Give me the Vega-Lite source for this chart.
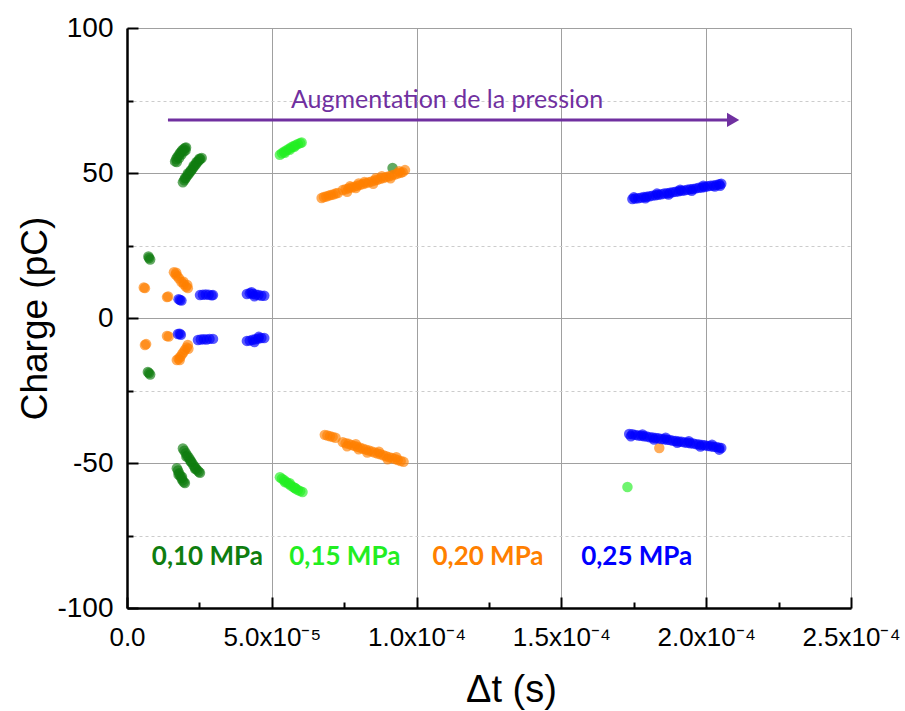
{
  "$schema": "https://vega.github.io/schema/vega-lite/v6.json",
  "width": 724,
  "height": 580,
  "autosize": "none",
  "padding": {"left": 127, "top": 28, "right": 54, "bottom": 103},
  "background": "white",
  "config": {"view": {"stroke": null}},
  "encoding": {
    "x": {
      "field": "x", "type": "quantitative",
      "scale": {"domain": [0, 0.00025], "nice": false, "zero": false},
      "axis": {
        "values": [0, 2.5e-5, 5e-5, 7.5e-5, 1e-4, 1.25e-4, 1.5e-4, 1.75e-4, 2e-4, 2.25e-4, 2.5e-4],
        "labelExpr": "['0.0','','5.0x10⁻⁵','','1.0x10⁻⁴','','1.5x10⁻⁴','','2.0x10⁻⁴','','2.5x10⁻⁴'][round(datum.value/2.5e-5)]",
        "grid": true,
        "gridColor": "#a0a0a0",
        "gridWidth": 1,
        "gridOpacity": {"condition": {"test": "round(datum.value/2.5e-5)%2===1", "value": 0}, "value": 1},
        "tickSize": {"condition": {"test": "round(datum.value/2.5e-5)%2===1", "value": -6}, "value": -11},
        "tickColor": "black", "tickWidth": 2,
        "domainColor": "black", "domainWidth": 2.5,
        "labelFont": "Liberation Sans", "labelFontSize": 26, "labelColor": "black",
        "labelPadding": 27, "labelFlush": false, "labelOverlap": false,
        "title": "Δt (s)", "titleFont": "Liberation Sans", "titleFontSize": 38,
        "titleFontWeight": "normal", "titleColor": "black",
        "titleX": 384, "titleY": 82, "titleBaseline": "middle"
      }
    },
    "y": {
      "field": "y", "type": "quantitative",
      "scale": {"domain": [-100, 100], "nice": false, "zero": false},
      "axis": {
        "values": [-100, -75, -50, -25, 0, 25, 50, 75, 100],
        "labelExpr": "abs(datum.value) % 50 === 0 ? '' + datum.value : ''",
        "grid": true,
        "gridColor": {"condition": {"test": "abs(datum.value) % 50 === 25", "value": "#cccccc"}, "value": "#a0a0a0"},
        "gridDash": {"condition": {"test": "abs(datum.value) % 50 === 25", "value": [3, 3]}, "value": []},
        "gridWidth": 1,
        "tickSize": {"condition": {"test": "abs(datum.value) % 50 === 25", "value": -6}, "value": -11},
        "tickColor": "black", "tickWidth": 2,
        "domainColor": "black", "domainWidth": 2.5,
        "labelFont": "Liberation Sans", "labelFontSize": 28, "labelColor": "black",
        "labelPadding": 25, "labelOverlap": false, "labelFlush": false,
        "title": "Charge (pC)", "titleFont": "Liberation Sans", "titleFontSize": 37,
        "titleFontWeight": "normal", "titleColor": "black",
        "titleX": -92, "titleBaseline": "middle"
      }
    }
  },
  "layer": [
    {
      "data": {"values": [
        {"p":"0.10","x":1.66e-5,"y":54.0},{"p":"0.10","x":1.70e-5,"y":54.8},{"p":"0.10","x":1.74e-5,"y":55.5},{"p":"0.10","x":1.78e-5,"y":56.0},{"p":"0.10","x":1.82e-5,"y":56.7},{"p":"0.10","x":1.86e-5,"y":57.2},{"p":"0.10","x":1.90e-5,"y":57.8},{"p":"0.10","x":1.95e-5,"y":58.2},{"p":"0.10","x":2.00e-5,"y":58.6},{"p":"0.10","x":2.04e-5,"y":58.8},{"p":"0.10","x":1.72e-5,"y":53.8},{"p":"0.10","x":1.80e-5,"y":55.2},{"p":"0.10","x":1.88e-5,"y":56.4},{"p":"0.10","x":1.96e-5,"y":57.4},{"p":"0.10","x":2.02e-5,"y":57.8},
        {"p":"0.10","x":1.93e-5,"y":46.8},{"p":"0.10","x":1.98e-5,"y":47.5},{"p":"0.10","x":2.03e-5,"y":48.3},{"p":"0.10","x":2.08e-5,"y":49.0},{"p":"0.10","x":2.13e-5,"y":49.6},{"p":"0.10","x":2.18e-5,"y":50.3},{"p":"0.10","x":2.23e-5,"y":51.0},{"p":"0.10","x":2.28e-5,"y":51.7},{"p":"0.10","x":2.33e-5,"y":52.4},{"p":"0.10","x":2.38e-5,"y":53.0},{"p":"0.10","x":2.43e-5,"y":53.7},{"p":"0.10","x":2.48e-5,"y":54.3},{"p":"0.10","x":2.53e-5,"y":54.8},{"p":"0.10","x":2.58e-5,"y":55.2},{"p":"0.10","x":2.00e-5,"y":48.2},{"p":"0.10","x":2.10e-5,"y":49.8},{"p":"0.10","x":2.20e-5,"y":50.9},{"p":"0.10","x":2.30e-5,"y":52.5},{"p":"0.10","x":2.40e-5,"y":53.8},{"p":"0.10","x":2.50e-5,"y":54.9},
        {"p":"0.10","x":0.76e-5,"y":20.7},{"p":"0.10","x":0.74e-5,"y":21.2},{"p":"0.10","x":0.80e-5,"y":20.2},
        {"p":"0.10","x":0.76e-5,"y":-19.0},{"p":"0.10","x":0.80e-5,"y":-19.5},{"p":"0.10","x":0.72e-5,"y":-18.6},
        {"p":"0.10","x":1.93e-5,"y":-45.0},{"p":"0.10","x":1.98e-5,"y":-45.8},{"p":"0.10","x":2.03e-5,"y":-46.6},{"p":"0.10","x":2.08e-5,"y":-47.4},{"p":"0.10","x":2.13e-5,"y":-48.1},{"p":"0.10","x":2.18e-5,"y":-48.9},{"p":"0.10","x":2.23e-5,"y":-49.7},{"p":"0.10","x":2.28e-5,"y":-50.5},{"p":"0.10","x":2.33e-5,"y":-51.2},{"p":"0.10","x":2.38e-5,"y":-51.9},{"p":"0.10","x":2.43e-5,"y":-52.5},{"p":"0.10","x":2.48e-5,"y":-53.0},{"p":"0.10","x":2.52e-5,"y":-53.4},{"p":"0.10","x":2.05e-5,"y":-47.8},{"p":"0.10","x":2.20e-5,"y":-49.5},{"p":"0.10","x":2.35e-5,"y":-52.0},
        {"p":"0.10","x":1.72e-5,"y":-51.8},{"p":"0.10","x":1.76e-5,"y":-52.6},{"p":"0.10","x":1.80e-5,"y":-53.5},{"p":"0.10","x":1.84e-5,"y":-54.4},{"p":"0.10","x":1.88e-5,"y":-55.3},{"p":"0.10","x":1.92e-5,"y":-56.0},{"p":"0.10","x":1.96e-5,"y":-56.6},{"p":"0.10","x":2.00e-5,"y":-56.9},{"p":"0.10","x":1.78e-5,"y":-54.0},{"p":"0.10","x":1.90e-5,"y":-54.8},
        {"p":"0.10","x":9.17e-5,"y":51.7},
        {"p":"0.15","x":5.28e-5,"y":56.3},{"p":"0.15","x":5.35e-5,"y":56.8},{"p":"0.15","x":5.42e-5,"y":57.3},{"p":"0.15","x":5.50e-5,"y":57.8},{"p":"0.15","x":5.58e-5,"y":58.3},{"p":"0.15","x":5.66e-5,"y":58.8},{"p":"0.15","x":5.74e-5,"y":59.2},{"p":"0.15","x":5.82e-5,"y":59.6},{"p":"0.15","x":5.90e-5,"y":60.0},{"p":"0.15","x":5.98e-5,"y":60.3},{"p":"0.15","x":6.03e-5,"y":60.5},{"p":"0.15","x":5.45e-5,"y":57.0},{"p":"0.15","x":5.62e-5,"y":58.0},{"p":"0.15","x":5.78e-5,"y":59.0},
        {"p":"0.15","x":5.28e-5,"y":-54.9},{"p":"0.15","x":5.35e-5,"y":-55.4},{"p":"0.15","x":5.42e-5,"y":-55.9},{"p":"0.15","x":5.50e-5,"y":-56.5},{"p":"0.15","x":5.58e-5,"y":-57.2},{"p":"0.15","x":5.66e-5,"y":-57.8},{"p":"0.15","x":5.74e-5,"y":-58.3},{"p":"0.15","x":5.82e-5,"y":-58.8},{"p":"0.15","x":5.90e-5,"y":-59.3},{"p":"0.15","x":5.98e-5,"y":-59.7},{"p":"0.15","x":6.06e-5,"y":-60.0},{"p":"0.15","x":5.45e-5,"y":-56.6},{"p":"0.15","x":5.62e-5,"y":-57.0},{"p":"0.15","x":5.80e-5,"y":-58.6},
        {"p":"0.15","x":17.28e-5,"y":-58.3},
        {"p":"0.20","x":6.72e-5,"y":41.4},{"p":"0.20","x":6.80e-5,"y":41.7},{"p":"0.20","x":6.88e-5,"y":41.9},{"p":"0.20","x":6.96e-5,"y":42.2},{"p":"0.20","x":7.04e-5,"y":42.4},{"p":"0.20","x":7.12e-5,"y":42.6},{"p":"0.20","x":7.20e-5,"y":42.9},{"p":"0.20","x":7.28e-5,"y":43.1},
        {"p":"0.20","x":7.45e-5,"y":44.1},{"p":"0.20","x":7.55e-5,"y":44.4},{"p":"0.20","x":7.65e-5,"y":44.7},{"p":"0.20","x":7.75e-5,"y":45.0},{"p":"0.20","x":7.85e-5,"y":45.3},{"p":"0.20","x":7.95e-5,"y":45.6},{"p":"0.20","x":8.05e-5,"y":45.9},{"p":"0.20","x":8.15e-5,"y":46.2},{"p":"0.20","x":8.25e-5,"y":46.5},{"p":"0.20","x":8.35e-5,"y":46.8},{"p":"0.20","x":8.45e-5,"y":47.1},{"p":"0.20","x":8.55e-5,"y":47.4},{"p":"0.20","x":8.65e-5,"y":47.7},{"p":"0.20","x":8.75e-5,"y":48.0},{"p":"0.20","x":8.85e-5,"y":48.3},{"p":"0.20","x":8.95e-5,"y":48.6},{"p":"0.20","x":9.05e-5,"y":48.9},{"p":"0.20","x":9.15e-5,"y":49.2},{"p":"0.20","x":9.25e-5,"y":49.5},{"p":"0.20","x":9.35e-5,"y":49.8},{"p":"0.20","x":9.45e-5,"y":50.1},{"p":"0.20","x":9.52e-5,"y":50.3},
        {"p":"0.20","x":7.6e-5,"y":43.5},{"p":"0.20","x":7.9e-5,"y":44.8},{"p":"0.20","x":8.2e-5,"y":46.9},{"p":"0.20","x":8.5e-5,"y":46.3},{"p":"0.20","x":8.8e-5,"y":48.9},{"p":"0.20","x":9.1e-5,"y":48.2},{"p":"0.20","x":9.4e-5,"y":50.6},{"p":"0.20","x":7.7e-5,"y":45.4},{"p":"0.20","x":8.0e-5,"y":46.4},{"p":"0.20","x":8.6e-5,"y":48.2},
        {"p":"0.20","x":9.6e-5,"y":51.0},
        {"p":"0.20","x":6.83e-5,"y":-40.3},{"p":"0.20","x":6.92e-5,"y":-40.5},{"p":"0.20","x":7.01e-5,"y":-40.8},{"p":"0.20","x":7.10e-5,"y":-41.0},{"p":"0.20","x":7.20e-5,"y":-41.3},
        {"p":"0.20","x":7.45e-5,"y":-42.8},{"p":"0.20","x":7.55e-5,"y":-43.2},{"p":"0.20","x":7.65e-5,"y":-43.4},{"p":"0.20","x":7.75e-5,"y":-43.8},{"p":"0.20","x":7.85e-5,"y":-44.1},{"p":"0.20","x":7.95e-5,"y":-44.4},{"p":"0.20","x":8.05e-5,"y":-44.7},{"p":"0.20","x":8.15e-5,"y":-45.1},{"p":"0.20","x":8.25e-5,"y":-45.4},{"p":"0.20","x":8.35e-5,"y":-45.7},{"p":"0.20","x":8.45e-5,"y":-46.0},{"p":"0.20","x":8.55e-5,"y":-46.4},{"p":"0.20","x":8.65e-5,"y":-46.7},{"p":"0.20","x":8.75e-5,"y":-47.0},{"p":"0.20","x":8.85e-5,"y":-47.3},{"p":"0.20","x":8.95e-5,"y":-47.7},{"p":"0.20","x":9.05e-5,"y":-48.0},{"p":"0.20","x":9.15e-5,"y":-48.3},{"p":"0.20","x":9.25e-5,"y":-48.6},{"p":"0.20","x":9.35e-5,"y":-49.0},{"p":"0.20","x":9.45e-5,"y":-49.3},{"p":"0.20","x":9.55e-5,"y":-49.6},
        {"p":"0.20","x":7.6e-5,"y":-44.2},{"p":"0.20","x":7.9e-5,"y":-43.5},{"p":"0.20","x":8.3e-5,"y":-46.4},{"p":"0.20","x":8.7e-5,"y":-46.1},{"p":"0.20","x":9.0e-5,"y":-48.7},{"p":"0.20","x":9.3e-5,"y":-48.0},{"p":"0.20","x":8.0e-5,"y":-45.3},
        {"p":"0.20","x":18.38e-5,"y":-44.8},
        {"p":"0.20","x":0.62e-5,"y":10.3},{"p":"0.20","x":0.58e-5,"y":10.5},{"p":"0.20","x":1.38e-5,"y":7.2},{"p":"0.20","x":1.42e-5,"y":7.4},
        {"p":"0.20","x":1.62e-5,"y":15.8},{"p":"0.20","x":1.68e-5,"y":15.0},{"p":"0.20","x":1.74e-5,"y":14.4},{"p":"0.20","x":1.80e-5,"y":13.6},{"p":"0.20","x":1.88e-5,"y":12.4},{"p":"0.20","x":1.96e-5,"y":11.6},{"p":"0.20","x":2.04e-5,"y":10.8},{"p":"0.20","x":2.10e-5,"y":10.3},{"p":"0.20","x":1.70e-5,"y":15.6},{"p":"0.20","x":1.95e-5,"y":12.5},{"p":"0.20","x":2.08e-5,"y":11.4},
        {"p":"0.20","x":0.62e-5,"y":-9.3},{"p":"0.20","x":0.66e-5,"y":-9.0},{"p":"0.20","x":1.38e-5,"y":-6.2},{"p":"0.20","x":1.44e-5,"y":-6.4},
        {"p":"0.20","x":2.10e-5,"y":-9.3},{"p":"0.20","x":2.06e-5,"y":-10.2},{"p":"0.20","x":2.00e-5,"y":-11.0},{"p":"0.20","x":1.95e-5,"y":-11.8},{"p":"0.20","x":1.90e-5,"y":-12.5},{"p":"0.20","x":1.84e-5,"y":-13.4},{"p":"0.20","x":1.78e-5,"y":-14.0},{"p":"0.20","x":1.72e-5,"y":-14.5},{"p":"0.20","x":2.12e-5,"y":-10.6},{"p":"0.20","x":1.82e-5,"y":-14.5},
        {"p":"0.25","x":1.83e-5,"y":6.2},{"p":"0.25","x":1.78e-5,"y":6.5},{"p":"0.25","x":1.88e-5,"y":6.0},
        {"p":"0.25","x":2.52e-5,"y":7.9},{"p":"0.25","x":2.62e-5,"y":8.0},{"p":"0.25","x":2.72e-5,"y":8.1},{"p":"0.25","x":2.82e-5,"y":8.0},{"p":"0.25","x":2.92e-5,"y":7.8},{"p":"0.25","x":2.97e-5,"y":7.9},
        {"p":"0.25","x":4.14e-5,"y":8.3},{"p":"0.25","x":4.24e-5,"y":8.5},{"p":"0.25","x":4.34e-5,"y":8.3},{"p":"0.25","x":4.44e-5,"y":8.1},{"p":"0.25","x":4.54e-5,"y":7.9},{"p":"0.25","x":4.64e-5,"y":7.7},{"p":"0.25","x":4.74e-5,"y":7.7},{"p":"0.25","x":4.40e-5,"y":7.5},{"p":"0.25","x":4.30e-5,"y":8.9},
        {"p":"0.25","x":1.76e-5,"y":-5.5},{"p":"0.25","x":1.82e-5,"y":-5.4},{"p":"0.25","x":1.86e-5,"y":-5.8},
        {"p":"0.25","x":2.45e-5,"y":-7.6},{"p":"0.25","x":2.55e-5,"y":-7.4},{"p":"0.25","x":2.65e-5,"y":-7.3},{"p":"0.25","x":2.75e-5,"y":-7.4},{"p":"0.25","x":2.85e-5,"y":-7.2},{"p":"0.25","x":2.97e-5,"y":-7.2},
        {"p":"0.25","x":4.14e-5,"y":-7.9},{"p":"0.25","x":4.24e-5,"y":-7.8},{"p":"0.25","x":4.34e-5,"y":-7.5},{"p":"0.25","x":4.44e-5,"y":-7.3},{"p":"0.25","x":4.54e-5,"y":-7.1},{"p":"0.25","x":4.64e-5,"y":-6.9},{"p":"0.25","x":4.74e-5,"y":-6.9},{"p":"0.25","x":4.40e-5,"y":-8.3},{"p":"0.25","x":4.55e-5,"y":-6.5},
        {"p":"0.25","x":17.45e-5,"y":41.0},{"p":"0.25","x":17.55e-5,"y":41.2},{"p":"0.25","x":17.65e-5,"y":41.3},{"p":"0.25","x":17.75e-5,"y":41.5},{"p":"0.25","x":17.85e-5,"y":41.7},{"p":"0.25","x":17.95e-5,"y":41.8},{"p":"0.25","x":18.05e-5,"y":42.0},{"p":"0.25","x":18.15e-5,"y":42.2},{"p":"0.25","x":18.25e-5,"y":42.3},{"p":"0.25","x":18.35e-5,"y":42.5},{"p":"0.25","x":18.45e-5,"y":42.7},{"p":"0.25","x":18.55e-5,"y":42.9},{"p":"0.25","x":18.65e-5,"y":43.0},{"p":"0.25","x":18.75e-5,"y":43.2},{"p":"0.25","x":18.85e-5,"y":43.4},{"p":"0.25","x":18.95e-5,"y":43.5},{"p":"0.25","x":19.05e-5,"y":43.7},{"p":"0.25","x":19.15e-5,"y":43.9},{"p":"0.25","x":19.25e-5,"y":44.0},{"p":"0.25","x":19.35e-5,"y":44.2},{"p":"0.25","x":19.45e-5,"y":44.4},{"p":"0.25","x":19.55e-5,"y":44.5},{"p":"0.25","x":19.65e-5,"y":44.7},{"p":"0.25","x":19.75e-5,"y":44.9},{"p":"0.25","x":19.85e-5,"y":45.0},{"p":"0.25","x":19.95e-5,"y":45.2},{"p":"0.25","x":20.05e-5,"y":45.4},{"p":"0.25","x":20.15e-5,"y":45.6},{"p":"0.25","x":20.25e-5,"y":45.7},{"p":"0.25","x":20.35e-5,"y":45.9},{"p":"0.25","x":20.45e-5,"y":46.1},{"p":"0.25","x":20.52e-5,"y":46.3},
        {"p":"0.25","x":17.5e-5,"y":41.6},{"p":"0.25","x":17.9e-5,"y":41.3},{"p":"0.25","x":18.3e-5,"y":42.9},{"p":"0.25","x":18.7e-5,"y":42.6},{"p":"0.25","x":19.1e-5,"y":44.2},{"p":"0.25","x":19.5e-5,"y":43.9},{"p":"0.25","x":19.9e-5,"y":45.6},{"p":"0.25","x":20.3e-5,"y":45.3},{"p":"0.25","x":20.48e-5,"y":45.6},
        {"p":"0.25","x":17.34e-5,"y":-40.0},{"p":"0.25","x":17.45e-5,"y":-40.1},{"p":"0.25","x":17.55e-5,"y":-40.3},{"p":"0.25","x":17.65e-5,"y":-40.5},{"p":"0.25","x":17.75e-5,"y":-40.6},{"p":"0.25","x":17.85e-5,"y":-40.8},{"p":"0.25","x":17.95e-5,"y":-40.9},{"p":"0.25","x":18.05e-5,"y":-41.1},{"p":"0.25","x":18.15e-5,"y":-41.2},{"p":"0.25","x":18.25e-5,"y":-41.4},{"p":"0.25","x":18.35e-5,"y":-41.5},{"p":"0.25","x":18.45e-5,"y":-41.7},{"p":"0.25","x":18.55e-5,"y":-41.8},{"p":"0.25","x":18.65e-5,"y":-42.0},{"p":"0.25","x":18.75e-5,"y":-42.1},{"p":"0.25","x":18.85e-5,"y":-42.3},{"p":"0.25","x":18.95e-5,"y":-42.4},{"p":"0.25","x":19.05e-5,"y":-42.6},{"p":"0.25","x":19.15e-5,"y":-42.7},{"p":"0.25","x":19.25e-5,"y":-42.9},{"p":"0.25","x":19.35e-5,"y":-43.0},{"p":"0.25","x":19.45e-5,"y":-43.2},{"p":"0.25","x":19.55e-5,"y":-43.3},{"p":"0.25","x":19.65e-5,"y":-43.5},{"p":"0.25","x":19.75e-5,"y":-43.6},{"p":"0.25","x":19.85e-5,"y":-43.8},{"p":"0.25","x":19.95e-5,"y":-43.9},{"p":"0.25","x":20.05e-5,"y":-44.1},{"p":"0.25","x":20.15e-5,"y":-44.2},{"p":"0.25","x":20.25e-5,"y":-44.4},{"p":"0.25","x":20.35e-5,"y":-44.5},{"p":"0.25","x":20.45e-5,"y":-44.7},{"p":"0.25","x":20.52e-5,"y":-44.8},
        {"p":"0.25","x":17.4e-5,"y":-40.8},{"p":"0.25","x":17.8e-5,"y":-40.2},{"p":"0.25","x":18.2e-5,"y":-41.9},{"p":"0.25","x":18.6e-5,"y":-41.3},{"p":"0.25","x":19.0e-5,"y":-43.0},{"p":"0.25","x":19.4e-5,"y":-42.5},{"p":"0.25","x":19.8e-5,"y":-44.3},{"p":"0.25","x":20.2e-5,"y":-43.7},{"p":"0.25","x":20.45e-5,"y":-45.4}
      ]},
      "mark": {"type": "circle", "size": 110, "opacity": 0.65},
      "encoding": {
        "color": {"field": "p", "type": "nominal", "legend": null,
          "scale": {"domain": ["0.10", "0.15", "0.20", "0.25"], "range": ["#0f7d0f", "#22ee22", "#ff8000", "#0000ff"]}}
      }
    },
    {
      "data": {"values": [
        {"p": "0.10", "label": "0,10 MPa", "x": 2.776e-5, "y": -82.4},
        {"p": "0.15", "label": "0,15 MPa", "x": 7.52e-5, "y": -82.4},
        {"p": "0.20", "label": "0,20 MPa", "x": 1.2466e-4, "y": -82.4},
        {"p": "0.25", "label": "0,25 MPa", "x": 1.760e-4, "y": -82.4}
      ]},
      "mark": {"type": "text", "font": "Lato", "fontSize": 26, "fontWeight": "bold", "align": "center", "baseline": "middle"},
      "encoding": {
        "text": {"field": "label"},
        "color": {"field": "p", "type": "nominal", "legend": null}
      }
    },
    {
      "data": {"values": [{"x": 1.414e-5, "x2": 2.085e-4, "y": 68.3}]},
      "mark": {"type": "rule", "color": "#7030a0", "strokeWidth": 3},
      "encoding": {"x2": {"field": "x2"}}
    },
    {
      "data": {"values": [{"x": 2.093e-4, "y": 68.3}]},
      "mark": {"type": "point", "shape": "triangle-right", "filled": true, "color": "#7030a0", "opacity": 1, "size": 200}
    },
    {
      "data": {"values": [{"x": 1.105e-4, "y": 75.2, "label": "Augmentation de la pression"}]},
      "mark": {"type": "text", "font": "Lato", "fontSize": 25, "color": "#7030a0", "align": "center", "baseline": "middle"},
      "encoding": {"text": {"field": "label"}}
    }
  ]
}
